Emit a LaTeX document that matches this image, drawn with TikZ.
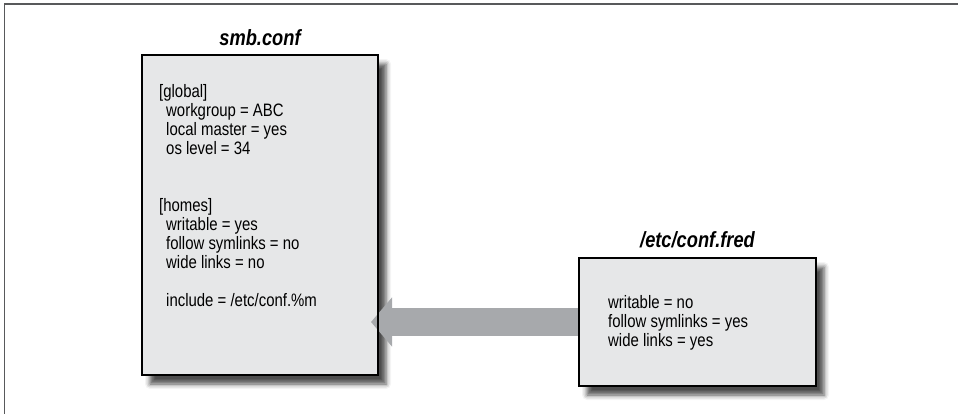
\documentclass[tikz,border=0pt]{standalone}
\usepackage{fontspec}
\setmainfont{Liberation Sans}[FakeStretch=0.83]
\usetikzlibrary{arrows.meta,positioning,shadows.blur}

\definecolor{boxgray}{HTML}{E6E7E8}
\definecolor{arrowgray}{HTML}{A7A9AC}
\definecolor{framegray}{HTML}{58595B}

\newcommand{\indentline}{\kern7pt}

\begin{document}
\begin{tikzpicture}[
        x=1pt, y=-1pt,
        cfgbox/.style={
            draw=black,
            line width=2.4pt,
            fill=boxgray,
            inner sep=0pt,
            outer sep=0pt,
            anchor=north west,
            blur shadow={shadow xshift=8pt, shadow yshift=-9pt,
                shadow blur radius=5pt, shadow opacity=70}
        },
        title/.style={
            font=\fontsize{22}{24}\selectfont\bfseries\itshape,
            inner sep=0pt
        },
        cfgtext/.style={
            font=\fontsize{18}{19}\selectfont,
            align=left,
            inner sep=0pt,
            anchor=north west
        },
        feed/.style={draw=arrowgray, line width=28pt, -{Triangle[length=21pt,width=48pt]}}
    ]
        \useasboundingbox (0,0) rectangle (958,414);

        % page frame, open at right and bottom
        \draw[framegray, line width=1.6pt] (958,4) -- (4.5,4) -- (4.5,414);

        \node[cfgbox, minimum width=236pt, minimum height=320pt] (smb) at (142,55) {};
        \node[cfgbox, minimum width=237pt, minimum height=128pt] (fred) at (579,258) {};

        \node[title, above=9pt of smb.north, anchor=base] (smbtitle) {smb.conf};
        \node[title, above=11pt of fred.north, anchor=base] (fredtitle) {/etc/conf.fred};

        \node[cfgtext] (smbtext) at ([shift={(17,29)}]smb.north west) {%
            [global]\\
            \indentline workgroup = ABC\\
            \indentline local master = yes\\
            \indentline os level = 34\\[38pt]
            {[homes]}\\
            \indentline writable = yes\\
            \indentline follow symlinks = no\\
            \indentline wide links = no\\[19pt]
            \indentline include = /etc/conf.\%m};
        \node[cfgtext] (fredtext) at ([shift={(29,37)}]fred.north west) {%
            writable = no\\
            follow symlinks = yes\\
            wide links = yes};

        \coordinate (tip) at ([xshift=-7pt]smb.east);
        \draw[feed] (fred.west) -- (fred.west -| tip);

        % borders back on top of the arrow
        \draw[line width=2.4pt] (smb.south west) rectangle (smb.north east);
        \draw[line width=2.4pt] (fred.south west) rectangle (fred.north east);
    \end{tikzpicture}
\end{document}
